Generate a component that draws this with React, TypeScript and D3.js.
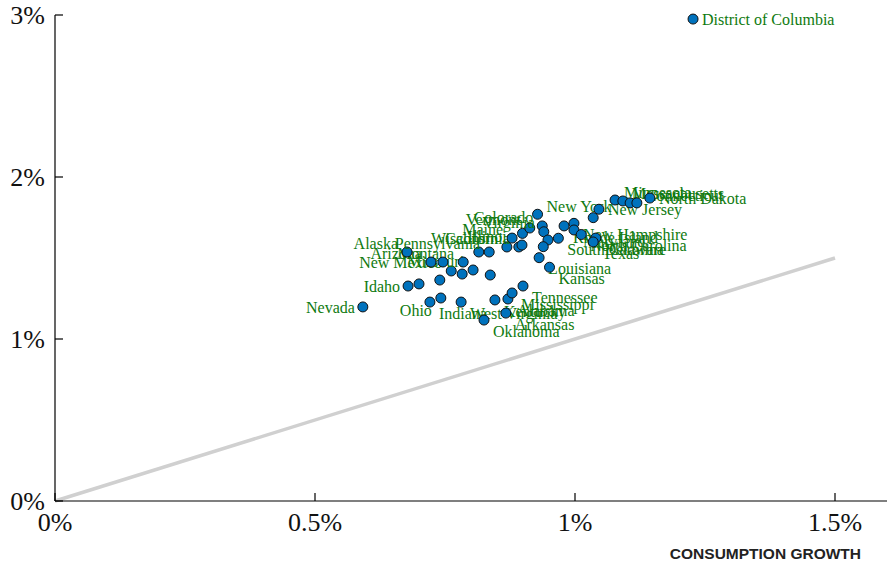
import React from "react";
import * as d3 from "d3";

const STATES = [
  "District of Columbia", "Nevada", "Idaho", "Utah", "Indiana", "Ohio", "West Virginia", "Michigan",
  "New Mexico", "Oregon", "Missouri", "Washington", "Montana", "Georgia", "Arizona", "Alaska",
  "Hawaii", "Pennsylvania", "Wisconsin", "California", "Illinois", "Maine", "Nebraska", "Vermont",
  "New York", "Colorado", "Virginia", "Iowa", "Florida", "Louisiana", "Kansas", "South Carolina",
  "Rhode Island", "New Hampshire", "Maryland", "North Carolina", "Delaware", "Texas", "Wyoming",
  "New Jersey", "Minnesota", "Massachusetts", "South Dakota", "Connecticut", "North Dakota",
  "Kentucky", "Alabama", "Mississippi", "Tennessee", "Arkansas", "Oklahoma",
];

// x: consumption growth (%)
const CONSUMPTION = [
  1.227, 0.592, 0.679, 0.7, 0.721, 0.742, 0.781, 0.74,
  0.762, 0.783, 0.804, 0.837, 0.785, 0.746, 0.723, 0.677,
  0.815, 0.835, 0.869, 0.892, 0.898, 0.879, 0.899, 0.913,
  0.928, 0.937, 0.94, 0.948, 0.939, 0.931, 0.951, 0.968,
  0.979, 0.998, 0.998, 1.012, 1.04, 1.035, 1.035,
  1.046, 1.077, 1.092, 1.106, 1.119, 1.144,
  0.846, 0.871, 0.879, 0.9, 0.867, 0.825,
];

// y: income growth (%)
const INCOME = [
  2.975, 1.198, 1.327, 1.34, 1.228, 1.253, 1.228, 1.364,
  1.42, 1.401, 1.426, 1.395, 1.475, 1.475, 1.475, 1.537,
  1.537, 1.537, 1.568, 1.568, 1.58, 1.623, 1.652, 1.685,
  1.77, 1.698, 1.662, 1.611, 1.57, 1.502, 1.443, 1.622,
  1.698, 1.714, 1.673, 1.645, 1.623, 1.599, 1.749,
  1.801, 1.858, 1.852, 1.84, 1.84, 1.87,
  1.241, 1.247, 1.284, 1.327, 1.16, 1.117,
];

// label placement relative to point
const LABEL_SIDE = [
  "r", "l", "l", "none", "lr", "ll", "lr", "none",
  "ul", "none", "ul", "none", "ul", "none", "ul", "ul",
  "none", "ul", "ul", "ul", "ul", "ul", "none", "ul",
  "ur", "ul", "ul", "none", "none", "lr", "lr", "lr",
  "lr", "lr", "lr", "lr", "lr", "lr", "none",
  "r", "ur", "ur", "none", "ur", "r",
  "lr", "lr", "lr", "lr", "lr", "lr",
];

const X_TICKS = [0, 0.5, 1, 1.5];
const X_TICK_LABELS = ["0%", "0.5%", "1%", "1.5%"];
const Y_TICKS = [0, 1, 2, 3];
const Y_TICK_LABELS = ["0%", "1%", "2%", "3%"];
const REF_LINE = [0, 1.5];

const W = 887;
const H = 561;
const SERIF = "'Liberation Serif', 'Times New Roman', serif";

const OFFSETS: Record<string, [number, number, string]> = {
  r: [9, 0, "start"],
  l: [-8, 0, "end"],
  ur: [9, -8, "start"],
  ul: [-9, -9, "end"],
  lr: [9, 11, "start"],
  ll: [-9, 12, "end"],
};

export default function App() {
  const x = d3.scaleLinear().domain([0, 1.6]).range([55, 887]);
  const y = d3.scaleLinear().domain([0, 3]).range([501, 15]);
  const line = d3.line<number>().x((d) => x(d)).y((d) => y(d));

  return (
    <svg
      width={W}
      height={H}
      style={{ position: "absolute", left: 0, top: 0, background: "#fff" }}
    >
      <path d={line(REF_LINE) || ""} stroke="#d0d0d0" strokeWidth={3.5} fill="none" />
      <line x1={x(0)} x2={x(1.6)} y1={y(0)} y2={y(0)} stroke="#000" strokeWidth={1.2} />
      <line x1={x(0)} x2={x(0)} y1={y(0)} y2={y(3)} stroke="#000" strokeWidth={1.2} />
      {Y_TICKS.map((t, i) => (
        <g key={"y" + t}>
          <line x1={x(0)} x2={x(0) + 8} y1={y(t)} y2={y(t)} stroke="#000" strokeWidth={1.2} />
          <text
            x={x(0) - 10}
            y={y(t)}
            dy="0.35em"
            textAnchor="end"
            fontFamily={SERIF}
            fontSize={26}
            fill="#111"
          >
            {Y_TICK_LABELS[i]}
          </text>
        </g>
      ))}
      {X_TICKS.map((t, i) => (
        <g key={"x" + t}>
          <line x1={x(t)} x2={x(t)} y1={y(0)} y2={y(0) - 8} stroke="#000" strokeWidth={1.2} />
          <text
            x={x(t)}
            y={y(0) + 30}
            textAnchor="middle"
            fontFamily={SERIF}
            fontSize={26}
            fill="#111"
          >
            {X_TICK_LABELS[i]}
          </text>
        </g>
      ))}
      <text
        x={861}
        y={559}
        textAnchor="end"
        fontFamily="'Liberation Sans', Arial, sans-serif"
        fontWeight="bold"
        fontSize={15.5}
        fill="#222"
      >
        CONSUMPTION GROWTH
      </text>
      {STATES.map((s, i) => {
        const cx = x(CONSUMPTION[i]);
        const cy = y(INCOME[i]);
        const side = LABEL_SIDE[i];
        const off = OFFSETS[side];
        return (
          <g key={s}>
            <circle cx={cx} cy={cy} r={5} fill="#0072BD" stroke="#111" strokeWidth={1} />
            {off && (
              <text
                x={cx + off[0]}
                y={cy + off[1]}
                dy="0.35em"
                textAnchor={off[2] as any}
                fontFamily={SERIF}
                fontSize={16}
                fill="#0f7a0f"
              >
                {s}
              </text>
            )}
          </g>
        );
      })}
    </svg>
  );
}
